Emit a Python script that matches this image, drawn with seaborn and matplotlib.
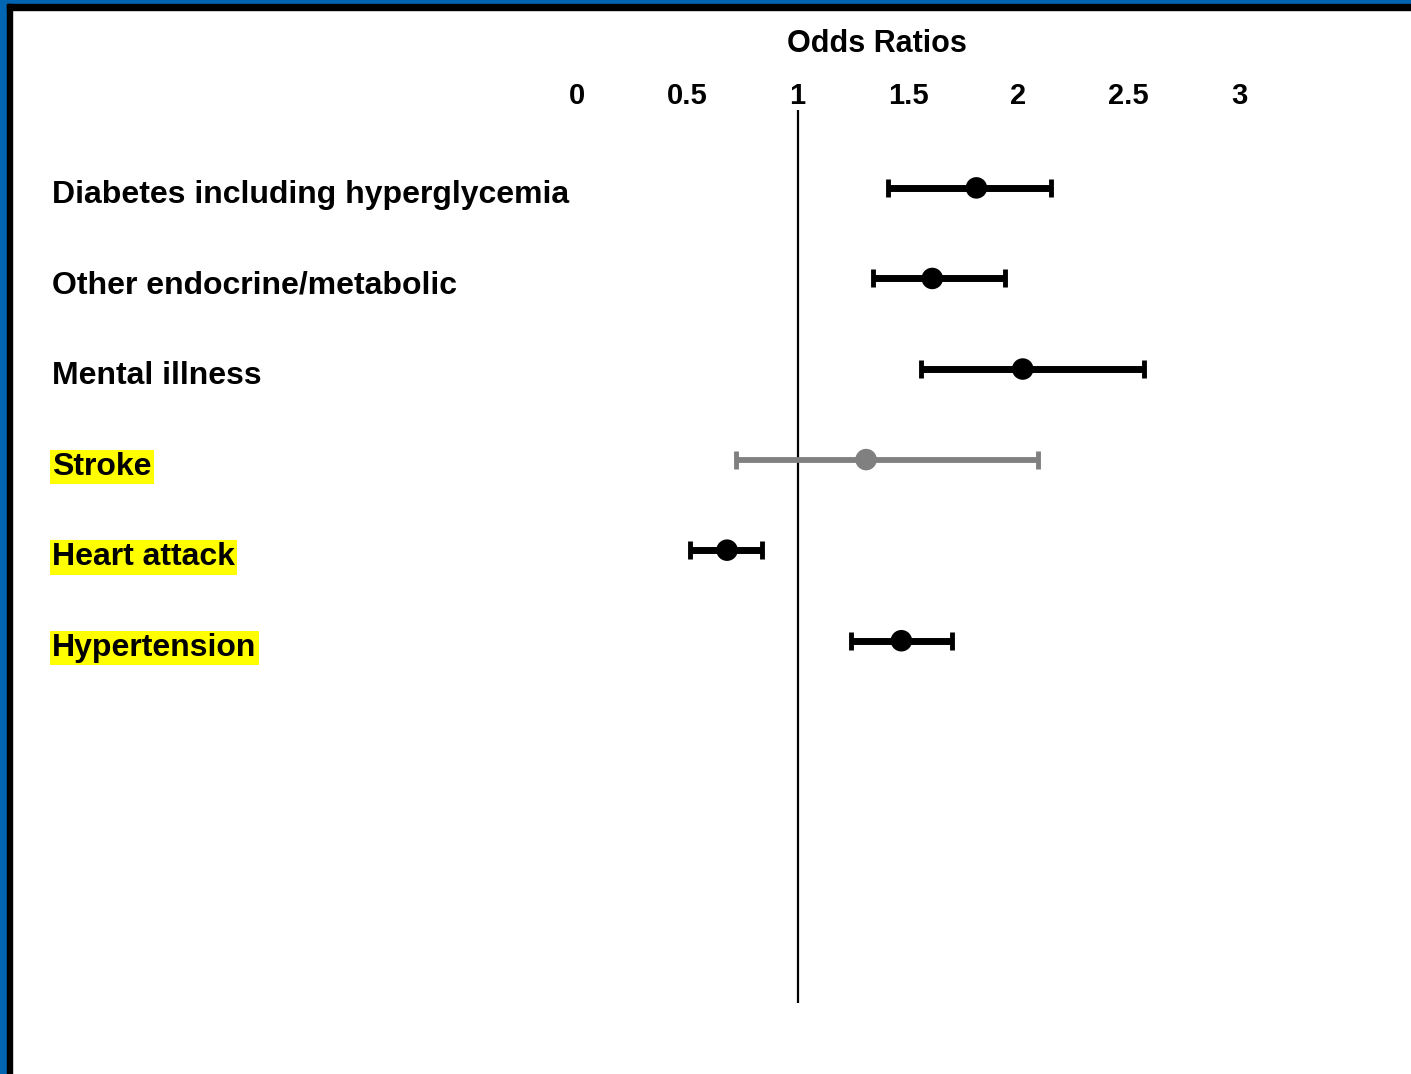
import matplotlib
matplotlib.use('Agg')
import matplotlib.pyplot as plt
import matplotlib.transforms as mtransforms
from matplotlib.patches import Rectangle
import seaborn as sns
import pandas as pd

# values
conditions = ['Diabetes including hyperglycemia', 'Other endocrine/metabolic', 'Mental illness',
              'Stroke', 'Heart attack', 'Hypertension']
odds = [1.81, 1.61, 2.02, 1.31, 0.68, 1.47]
ci_low = [1.41, 1.34, 1.56, 0.72, 0.51, 1.24]
ci_high = [2.15, 1.94, 2.57, 2.09, 0.84, 1.70]
significant = [True, True, True, False, True, True]
highlighted = [False, False, False, True, True, True]
xticks = [0, 0.5, 1, 1.5, 2, 2.5, 3]
xticklabels = ['0', '0.5', '1', '1.5', '2', '2.5', '3']

df = pd.DataFrame({'condition': conditions, 'odds': odds, 'low': ci_low, 'high': ci_high,
                   'sig': significant, 'hl': highlighted})
df['row'] = range(len(df))

sns.set_theme(style='white')
plt.rcParams['font.family'] = ['Liberation Sans', 'DejaVu Sans']
plt.rcParams['font.weight'] = 'bold'
plt.rcParams['text.color'] = 'black'
plt.rcParams['xtick.color'] = 'black'

W, H = 1411, 1074
fig = plt.figure(figsize=(W / 100, H / 100), dpi=100)

# frame: blue outer band, black inner band on top/left
fig.patches.append(Rectangle((0, 0), 7 / W, 1, transform=fig.transFigure, color='#0065B3', zorder=0))
fig.patches.append(Rectangle((0, 1 - 4 / H), 1, 4 / H, transform=fig.transFigure, color='#0065B3', zorder=0))
fig.patches.append(Rectangle((7 / W, 0), 5 / W, 1 - 4 / H, transform=fig.transFigure, color='black', zorder=0))
fig.patches.append(Rectangle((7 / W, 1 - 10 / H), 1, 6 / H, transform=fig.transFigure, color='black', zorder=0))

ax = fig.add_axes([577 / W, 1 - 1003 / H, (1239 - 577) / W, (1003 - 110) / H])
ax.set_facecolor('none')
ax.set_xlim(0, 3)
ax.set_ylim(9.0, -0.86)

ax.axvline(1, color='black', lw=1.6, zorder=1)

for sig, sub in df.groupby('sig'):
    col = 'black' if sig else '#808080'
    lw = 5 if sig else 4.2
    ax.errorbar(sub['odds'], sub['row'],
                xerr=[sub['odds'] - sub['low'], sub['high'] - sub['odds']],
                fmt='none', ecolor=col, elinewidth=lw, capsize=6.5, capthick=3.5, zorder=2)
    sns.scatterplot(data=sub, x='odds', y='row', color=col, s=240, edgecolor='none',
                    ax=ax, zorder=3, legend=False)

ax.xaxis.tick_top()
ax.set_xticks(xticks)
ax.set_xticklabels(xticklabels, fontsize=21, fontweight='bold', color='black')
ax.tick_params(axis='x', length=0, pad=0)
ax.set_yticks([])
ax.set_xlabel('')
ax.set_ylabel('')
for s in ax.spines.values():
    s.set_visible(False)

fig.text(877 / W, 1 - 44 / H, 'Odds Ratios', ha='center', va='center', fontsize=22,
         fontweight='bold', color='black')

trans = mtransforms.blended_transform_factory(fig.transFigure, ax.transData)
for _, r in df.iterrows():
    kw = dict(facecolor='yellow', edgecolor='none', pad=1.5) if r['hl'] else None
    ax.text(52 / W, r['row'] + 0.08, r['condition'], transform=trans, ha='left', va='center',
            fontsize=23, fontweight='bold', color='black', bbox=kw)

fig.savefig('out.png', dpi=100)
